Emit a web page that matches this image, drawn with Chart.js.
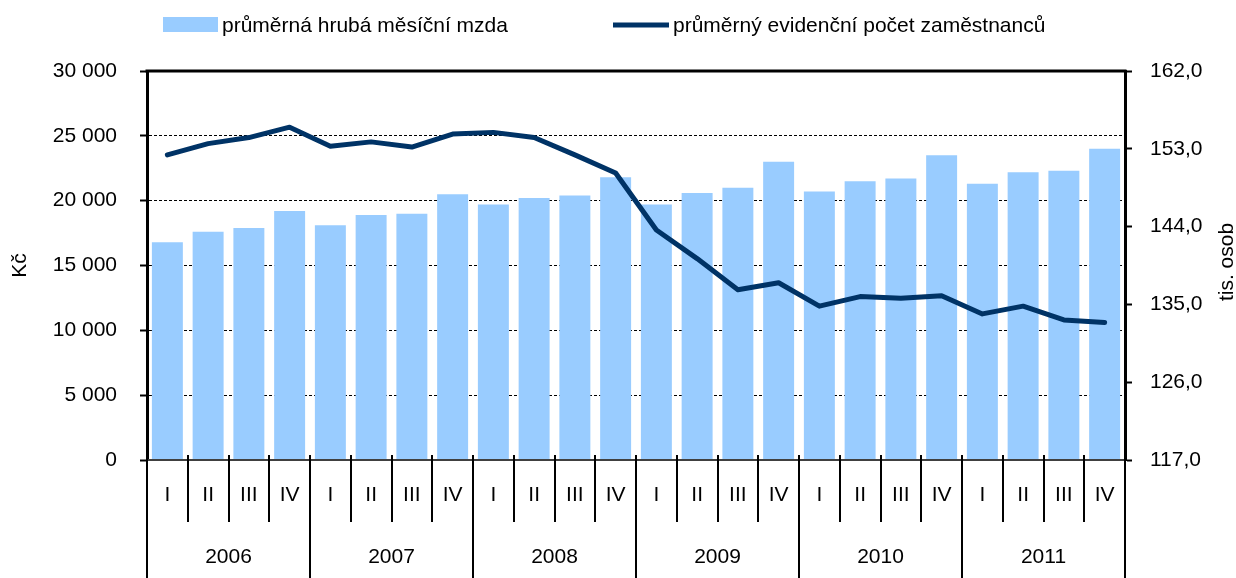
<!DOCTYPE html>
<html lang="cs">
<head>
<meta charset="utf-8">
<script src="https://cdn.jsdelivr.net/npm/chart.js@4.4.0/dist/chart.umd.min.js"></script>
<style>
  html, body { margin: 0; padding: 0; background: #fff; }
  #wrap { width: 1236px; height: 578px; }
</style>
</head>
<body>
<div id="wrap"><canvas id="mzdaChart" width="1236" height="578"></canvas></div>
<script>
// data
const ctvrtleti = ['I', 'II', 'III', 'IV', 'I', 'II', 'III', 'IV', 'I', 'II', 'III', 'IV',
                   'I', 'II', 'III', 'IV', 'I', 'II', 'III', 'IV', 'I', 'II', 'III', 'IV'];
const roky = ['2006', '2007', '2008', '2009', '2010', '2011'];
const mzda = [16800, 17600, 17900, 19200, 18100, 18900, 19000, 20500,
              19700, 20200, 20400, 21800, 19700, 20600, 21000, 23000,
              20700, 21500, 21700, 23500, 21300, 22200, 22300, 24000];
const zamestnanci = [152.3, 153.6, 154.3, 155.5, 153.3, 153.8, 153.2, 154.7,
                     154.9, 154.3, 152.3, 150.2, 143.6, 140.3, 136.7, 137.5,
                     134.8, 135.9, 135.7, 136.0, 133.9, 134.8, 133.2, 132.9];
const nazvySerii = ['průměrná hrubá měsíční mzda', 'průměrný evidenční počet zaměstnanců'];

const FONT = '"Liberation Sans", Arial, sans-serif';
const BAR_COLOR = '#99ccff';
const LINE_COLOR = '#003366';

Chart.defaults.font.family = FONT;
Chart.defaults.font.size = 21;
Chart.defaults.color = '#000';

// vlastní popisky osy X (čtvrtletí + roky), legenda a pravý titulek
const osaXPlugin = {
  id: 'osaX',
  afterDatasetsDraw(chart) {
    const { ctx, chartArea } = chart;
    const x = chart.scales.x;
    const slot = x.getPixelForValue(1) - x.getPixelForValue(0);
    const { left, right, top, bottom } = chartArea;
    ctx.save();

    // spodní osa
    ctx.strokeStyle = '#404040';
    ctx.lineWidth = 2;
    ctx.beginPath();
    ctx.moveTo(left, bottom);
    ctx.lineTo(right, bottom);
    ctx.stroke();

    // horní okraj
    ctx.strokeStyle = '#000';
    ctx.lineWidth = 3;
    ctx.beginPath();
    ctx.moveTo(left - 1.5, top);
    ctx.lineTo(right + 1.5, top);
    ctx.stroke();

    // oddělovače
    ctx.lineWidth = 2;
    for (let k = 0; k <= ctvrtleti.length; k++) {
      const px = Math.round(x.getPixelForValue(k) - slot / 2);
      const konec = (k % 4 === 0) ? 578 : 522;
      ctx.beginPath();
      ctx.moveTo(px, bottom - 5);
      ctx.lineTo(px, konec);
      ctx.stroke();
    }

    ctx.fillStyle = '#000';
    ctx.font = '21px ' + FONT;
    ctx.textAlign = 'center';
    ctx.textBaseline = 'middle';
    ctvrtleti.forEach((q, i) => {
      ctx.fillText(q, x.getPixelForValue(i), 495);
    });
    roky.forEach((r, j) => {
      const a = x.getPixelForValue(j * 4);
      const b = x.getPixelForValue(j * 4 + 3);
      ctx.fillText(r, (a + b) / 2, 557);
    });

    // titulek pravé osy
    ctx.save();
    ctx.translate(1227, 262);
    ctx.rotate(-Math.PI / 2);
    ctx.fillText('tis. osob', 0, 0);
    ctx.restore();

    // legenda
    ctx.textAlign = 'left';
    ctx.fillStyle = BAR_COLOR;
    ctx.fillRect(163, 17, 55, 15);
    ctx.fillStyle = '#000';
    ctx.fillText(nazvySerii[0], 222, 26);
    ctx.strokeStyle = LINE_COLOR;
    ctx.lineWidth = 5;
    ctx.beginPath();
    ctx.moveTo(613, 25);
    ctx.lineTo(669, 25);
    ctx.stroke();
    ctx.fillText(nazvySerii[1], 673, 26);

    ctx.restore();
  }
};

const ctx = document.getElementById('mzdaChart').getContext('2d');

new Chart(ctx, {
  type: 'bar',
  data: {
    labels: ctvrtleti.map((q, i) => q + ' ' + roky[Math.floor(i / 4)]),
    datasets: [
      {
        type: 'line',
        label: nazvySerii[1],
        data: zamestnanci,
        yAxisID: 'y1',
        borderColor: LINE_COLOR,
        borderWidth: 5,
        borderCapStyle: 'round',
        borderJoinStyle: 'round',
        pointRadius: 0,
        tension: 0,
        order: 0
      },
      {
        label: nazvySerii[0],
        data: mzda,
        yAxisID: 'y',
        backgroundColor: BAR_COLOR,
        barPercentage: 0.76,
        categoryPercentage: 1,
        order: 1
      }
    ]
  },
  options: {
    responsive: false,
    animation: false,
    layout: { padding: { top: 71, bottom: 118, left: 0, right: 0 } },
    plugins: {
      legend: { display: false },
      tooltip: { enabled: false }
    },
    scales: {
      x: { display: false, offset: true },
      y: {
        position: 'left',
        min: 0,
        max: 30000,
        afterFit: (s) => { s.width = 147; },
        ticks: {
          stepSize: 5000,
          padding: 23,
          callback: (v) => String(v).replace(/\B(?=(\d{3})+(?!\d))/g, ' ')
        },
        grid: {
          color: (c) => (c.tick && (c.tick.value === 0 || c.tick.value === 30000)) ? 'rgba(0,0,0,0)' : '#000',
          lineWidth: 1,
          tickLength: 7,
          tickColor: '#000',
          tickWidth: 2
        },
        border: { display: true, color: '#000', width: 3, dash: [3, 2] },
        title: { display: true, text: 'Kč', padding: { top: 8, bottom: 0 } }
      },
      y1: {
        position: 'right',
        min: 117,
        max: 162,
        afterFit: (s) => { s.width = 111; },
        ticks: {
          stepSize: 9,
          padding: 18,
          callback: (v) => v.toFixed(1).replace('.', ',')
        },
        grid: {
          drawOnChartArea: false,
          tickLength: 7,
          tickColor: '#000',
          tickWidth: 2
        },
        border: { display: true, color: '#000', width: 3 }
      }
    }
  },
  plugins: [osaXPlugin]
});
</script>
</body>
</html>
